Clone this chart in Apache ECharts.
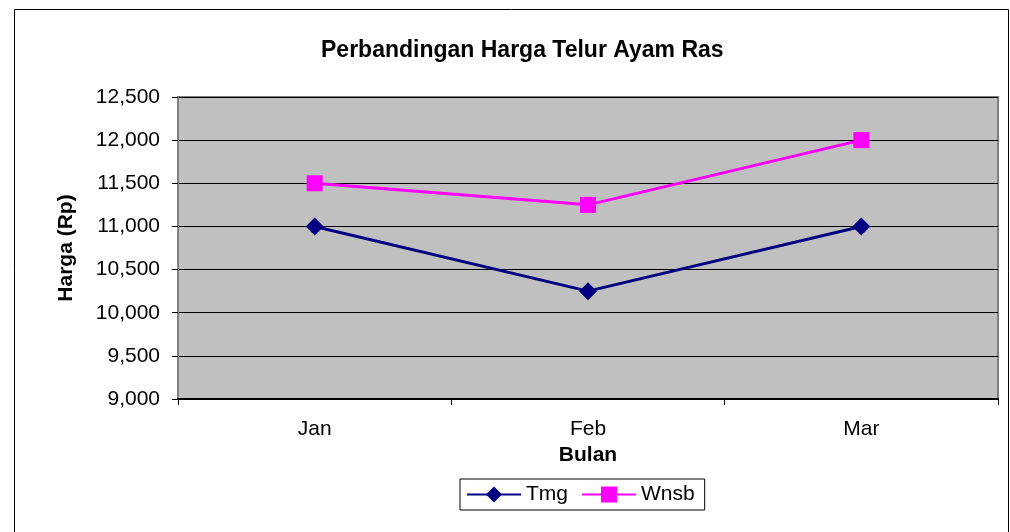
<!DOCTYPE html>
<html>
<head>
<meta charset="utf-8">
<script src="https://cdn.jsdelivr.net/npm/echarts@6/dist/echarts.min.js"></script>
<style>
 html, body { margin: 0; padding: 0; background: #fff; }
 #chart { width: 1010px; height: 532px; }
</style>
</head>
<body>
<div id="chart"></div>
<script>
 // data
 var months = ['Jan', 'Feb', 'Mar'];
 var tmg = [11000, 10250, 11000];
 var wnsb = [11500, 11250, 12000];

 var myChart = echarts.init(document.getElementById('chart'));
 var font = 'Liberation Sans, Arial, sans-serif';

 var option = {
     backgroundColor: '#fff',
     animation: false,
     title: {
         text: 'Perbandingan Harga Telur Ayam Ras',
         left: 316,
         top: 34,
         textStyle: { fontFamily: font, fontSize: 23, fontWeight: 'bold', color: '#000' }
     },
     graphic: [{
         type: 'rect',
         shape: { x: 14.5, y: 9.5, width: 994, height: 600 },
         style: { fill: null, stroke: '#000', lineWidth: 1 },
         silent: true
     }],
     legend: {
         left: 460,
         top: 479,
         itemWidth: 54,
         itemHeight: 20,
         itemGap: 13,
         padding: [5, 10, 5, 6],
         borderColor: '#000',
         borderWidth: 1,
         textStyle: { fontFamily: font, fontSize: 21, color: '#000' },
         data: ['Tmg', 'Wnsb']
     },
     grid: {
         left: 178,
         right: 12,
         top: 97,
         bottom: 133,
         show: true,
         backgroundColor: '#C0C0C0',
         borderColor: '#808080',
         borderWidth: 2
     },
     xAxis: {
         type: 'category',
         data: months,
         boundaryGap: true,
         name: 'Bulan',
         nameLocation: 'middle',
         nameGap: 39,
         nameTextStyle: { fontFamily: font, fontSize: 21, fontWeight: 'bold', color: '#000' },
         axisLine: { lineStyle: { color: '#000', width: 2 } },
         axisTick: { show: true, length: 6, lineStyle: { color: '#000' } },
         axisLabel: { margin: 20, fontFamily: font, fontSize: 21, color: '#000' }
     },
     yAxis: {
         type: 'value',
         min: 9000,
         max: 12500,
         interval: 500,
         name: 'Harga (Rp)',
         nameLocation: 'middle',
         nameGap: 101,
         nameTextStyle: { fontFamily: font, fontSize: 21, fontWeight: 'bold', color: '#000' },
         axisLine: { show: true, lineStyle: { color: '#808080', width: 2 } },
         axisTick: { show: true, length: 6, lineStyle: { color: '#000' } },
         axisLabel: {
             margin: 18, fontFamily: font, fontSize: 21, color: '#000',
             formatter: function (v) { return v.toLocaleString('en-US'); }
         },
         splitLine: { lineStyle: { color: '#000', width: 1 } }
     },
     series: [{
         name: 'Tmg',
         type: 'line',
         data: tmg,
         symbol: 'diamond',
         symbolSize: 18,
         color: '#000080',
         lineStyle: { width: 3, color: '#000080' },
         itemStyle: { color: '#000080' }
     }, {
         name: 'Wnsb',
         type: 'line',
         data: wnsb,
         symbol: 'rect',
         symbolSize: 16,
         color: '#FF00FF',
         lineStyle: { width: 3, color: '#FF00FF' },
         itemStyle: { color: '#FF00FF' }
     }]
 };

 myChart.setOption(option);
</script>
</body>
</html>
